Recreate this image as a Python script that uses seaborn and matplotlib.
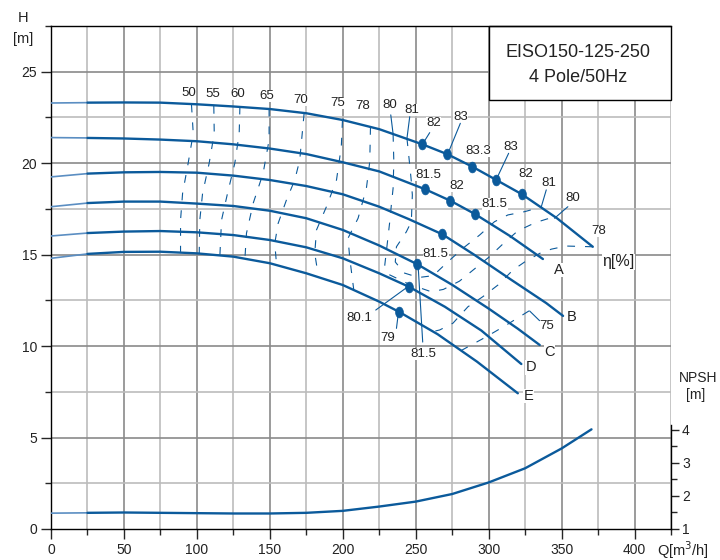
import numpy as np
import seaborn as sns
import matplotlib.pyplot as plt
from matplotlib.markers import MarkerStyle
from matplotlib.patches import Rectangle
from matplotlib.ticker import MultipleLocator

sns.set_style("ticks")
plt.rcParams["font.family"] = ["Liberation Sans", "DejaVu Sans"]

BLUE = "#0b5a9b"
LIGHT = "#5b8ec2"
TXT = "#222222"

# -----------------------------------------------------------
# H-Q curves (Q in m3/h, H in m)
# -----------------------------------------------------------
q_max = [0, 25, 50, 75, 100, 125, 150, 175, 200, 225, 254.6, 271.7, 288.8, 305.3, 322.8, 347, 371.4]
h_max = [23.29, 23.31, 23.32, 23.31, 23.22, 23.1, 22.96, 22.73, 22.36, 21.86, 21.03, 20.49, 19.81, 19.08, 18.3, 16.98, 15.43]

q_a = [0, 25, 50, 75, 100, 125, 150, 175, 200, 225, 256.6, 273.7, 290.6, 315, 337.2]
h_a = [21.4, 21.38, 21.35, 21.29, 21.2, 21.03, 20.8, 20.5, 20.05, 19.55, 18.57, 17.95, 17.22, 16.0, 14.76]

q_b = [0, 25, 50, 75, 100, 125, 150, 175, 200, 225, 245, 268.3, 290, 315, 339.5, 351]
h_b = [19.25, 19.43, 19.5, 19.52, 19.48, 19.32, 19.08, 18.75, 18.3, 17.62, 16.95, 16.11, 15.0, 13.65, 12.35, 11.65]

q_c = [0, 25, 50, 75, 100, 125, 150, 175, 200, 225, 251.2, 275, 300, 320, 335]
h_c = [17.62, 17.82, 17.9, 17.9, 17.79, 17.66, 17.4, 16.99, 16.35, 15.5, 14.47, 13.35, 12.05, 10.95, 10.06]

q_d = [0, 25, 50, 75, 100, 125, 150, 175, 200, 225, 245.2, 270, 295, 322.4]
h_d = [16.02, 16.18, 16.26, 16.29, 16.22, 16.07, 15.8, 15.4, 14.8, 13.98, 13.25, 12.15, 10.85, 9.02]

q_e = [0, 25, 50, 75, 100, 125, 150, 175, 200, 225, 238.4, 265, 292, 320]
h_e = [14.8, 15.04, 15.15, 15.16, 15.07, 14.89, 14.53, 13.98, 13.34, 12.43, 11.88, 10.65, 9.15, 7.42]

# NPSH curve (m)
q_npsh = [0, 25, 50, 75, 100, 125, 150, 175, 200, 225, 250, 275, 300, 325, 350, 370.5]
npsh = [1.48, 1.49, 1.5, 1.49, 1.48, 1.47, 1.47, 1.49, 1.55, 1.68, 1.83, 2.06, 2.41, 2.84, 3.44, 4.02]

# best efficiency markers
bep_q = [254.6, 271.7, 288.8, 305.3, 322.8, 256.6, 273.7, 290.6, 268.3, 251.2, 245.2, 238.4]
bep_h = [21.03, 20.49, 19.81, 19.08, 18.3, 18.57, 17.95, 17.22, 16.11, 14.47, 13.25, 11.88]

# -----------------------------------------------------------
# iso-efficiency lines
# -----------------------------------------------------------
eta50_q = [96.3, 97.5, 94, 90.2, 88.8, 88.8]
eta50_h = [23.2, 21.63, 19.99, 18.35, 16.89, 15.15]
eta55_q = [111.6, 111.9, 108.4, 103.9, 102, 101.6]
eta55_h = [23.13, 21.63, 19.99, 18.35, 16.89, 15.07]
eta60_q = [129.5, 129, 126, 121, 116.9, 115.8]
eta60_h = [23.09, 21.63, 20.0, 18.35, 16.89, 15.0]
eta65_q = [149.5, 149.5, 145.4, 138.6, 134, 132.9]
eta65_h = [22.98, 21.27, 19.45, 17.81, 16.17, 14.75]
eta70_q = [173.5, 170.5, 167.1, 161.4, 155.7, 153.4, 154.6]
eta70_h = [22.72, 20.17, 19.08, 17.99, 16.71, 15.62, 14.45]
eta75_q = [199.8, 199, 195.7, 188.8, 182, 180.8, 183.1]
eta75_h = [22.36, 20.9, 19.08, 17.62, 16.35, 15.07, 13.9]
eta78_q = [219, 218.5, 216.2, 210.5, 203.6, 204.8, 207.5]
eta78_h = [21.98, 20.08, 18.63, 16.99, 15.9, 14.8, 13.1]
eta80_q = [234.5, 235, 234.5, 233.3, 232.2, 230.5, 228.8, 232, 245, 260.7, 269, 280, 290, 300, 310, 320, 332, 340, 346]
eta80_h = [21.6, 20.08, 18.63, 17.71, 16.8, 15.6, 14.43, 13.9, 13.4, 12.97, 13.1, 13.55, 14.2, 14.85, 15.6, 16.3, 16.75, 16.95, 17.05]
eta81_q = [244, 245.9, 247, 247.7, 247, 243.6, 236.8, 236, 242, 252, 262, 271, 282.4, 293.8, 304, 313.2, 324.7, 336]
eta81_h = [21.36, 19.9, 19.0, 18.26, 16.8, 16.25, 15.43, 14.6, 14.0, 13.75, 13.85, 14.53, 15.35, 16.07, 16.8, 17.17, 17.35, 17.6]
eta78r_q = [371.4, 353, 343, 335, 324.7, 316.7, 306.4, 296, 285.8, 275.5, 266.4, 262]
eta78r_h = [15.43, 15.47, 15.3, 15.07, 14.6, 14.16, 13.34, 12.7, 12.15, 11.25, 10.88, 10.8]
eta75r_q = [281, 298.4, 312.1, 328]
eta75r_h = [9.75, 10.51, 11.15, 11.94]

# thin leader lines: (q0, h0, q1, h1)
leaders = [
    (259.6, 21.67, 254.6, 21.03),
    (280.6, 22.18, 271.9, 20.49),
    (313.7, 20.54, 305.3, 19.12),
    (339.5, 18.54, 336.1, 17.62),
    (354.3, 17.62, 345.2, 16.99),
    (232.9, 22.64, 234.5, 21.6),
    (245.9, 22.54, 244.0, 21.36),
    (251.6, 14.47, 254.8, 10.22),
    (222.6, 11.97, 244.7, 13.25),
    (236.8, 10.97, 238.2, 11.86),
    (328.1, 11.92, 334.9, 11.39),
]

eta_labels = [
    ("50", 94.5, 23.84), ("55", 111, 23.78), ("60", 128.1, 23.78), ("65", 147.9, 23.67),
    ("70", 171.2, 23.46), ("75", 196.6, 23.29), ("78", 213.7, 23.13), ("80", 232.2, 23.18),
    ("81", 247.1, 22.9), ("82", 262.3, 22.18), ("83", 280.6, 22.51), ("83.3", 293.2, 20.68),
    ("83", 315.3, 20.87), ("82", 325.1, 19.41), ("81", 341.3, 18.93), ("80", 357.7, 18.08),
    ("78", 375.5, 16.31), ("81.5", 258.4, 19.36), ("82", 277.9, 18.77), ("81.5", 304.1, 17.77),
    ("81.5", 263.7, 15.04), ("80.1", 211.2, 11.55), ("79", 231, 10.43), ("81.5", 255, 9.57),
    ("75", 339.9, 11.1),
]
curve_labels = [("A", 347.9, 14.16), ("B", 356.6, 11.57), ("C", 341.8, 9.69),
                ("D", 329.2, 8.84), ("E", 327.2, 7.27)]

# grid positions
grid_q = np.arange(25, 426, 25)
grid_h = np.arange(2.5, 27.5, 2.5)

RECT = [51 / 720, 31 / 560, 620 / 720, 503 / 560]
fig = plt.figure(figsize=(7.2, 5.6), dpi=100)

# main H-Q axes
ax = fig.add_axes(RECT, zorder=1)
ax.set_xlim(0, 425)
ax.set_ylim(0, 27.5)

# grid, drawn as plain lines behind everything else
for g in grid_q:
    sns.lineplot(x=[g, g], y=[0, 27.5], ax=ax, lw=1.2, sort=False, estimator=None,
                 color="#8a8a8a" if g % 50 == 0 else "#bcbcbc", zorder=0.6)
for g in grid_h:
    sns.lineplot(x=[0, 425], y=[g, g], ax=ax, lw=1.2, sort=False, estimator=None,
                 color="#8a8a8a" if g % 5 == 0 else "#bcbcbc", zorder=0.6)

# efficiency iso lines
dash = (0, (7, 9))
contours = [(eta50_q, eta50_h), (eta55_q, eta55_h), (eta60_q, eta60_h), (eta65_q, eta65_h),
            (eta70_q, eta70_h), (eta75_q, eta75_h), (eta78_q, eta78_h), (eta80_q, eta80_h),
            (eta81_q, eta81_h), (eta78r_q, eta78r_h), (eta75r_q, eta75r_h)]
for cq, ch in contours:
    sns.lineplot(x=cq, y=ch, ax=ax, color=BLUE, lw=0.8, linestyle=dash,
                 sort=False, estimator=None, zorder=2.7)

for q0, h0, q1, h1 in leaders:
    sns.lineplot(x=[q0, q1], y=[h0, h1], ax=ax, color=BLUE, lw=0.8,
                 sort=False, estimator=None, zorder=2.7)

# H-Q curves, light start section below 25 m3/h
for cq, ch in [(q_max, h_max), (q_a, h_a), (q_b, h_b), (q_c, h_c), (q_d, h_d), (q_e, h_e)]:
    sns.lineplot(x=cq[:2], y=ch[:2], ax=ax, color=LIGHT, lw=1.2,
                 sort=False, estimator=None, zorder=3)
    sns.lineplot(x=cq[1:], y=ch[1:], ax=ax, color=BLUE, lw=1.7,
                 sort=False, estimator=None, zorder=3)

t = np.linspace(0, 2 * np.pi, 40)
oval = MarkerStyle(np.column_stack([0.72 * np.cos(t), np.sin(t)]))
sns.scatterplot(x=bep_q, y=bep_h, ax=ax, marker=oval, s=60, color=BLUE,
                edgecolor=BLUE, linewidth=0.5, zorder=4)

# labels; bbox pad is given in units of the font size
for txt, x, y in eta_labels:
    ax.text(x, y, txt, fontsize=9.5, color=TXT, ha="center", va="center",
            bbox=dict(fc="white", ec="none", pad=0.12), zorder=2.5)
for txt, x, y in curve_labels:
    ax.text(x, y, txt, fontsize=10.5, color=TXT, ha="center", va="center",
            bbox=dict(fc="white", ec="none", pad=0.35), zorder=2.5)
ax.text(389.2, 14.61, "η[%]", fontsize=11.5, color=TXT, ha="center", va="center",
        bbox=dict(fc="white", ec="none", pad=0.35), zorder=2.5)

# title box
ax.add_patch(Rectangle((0.7065, 0.853), 0.2935, 0.147, transform=ax.transAxes,
                       fc="white", ec="black", lw=1.0, zorder=2.5, clip_on=False))
ax.text(0.8504, 0.947, "EISO150-125-250", transform=ax.transAxes, fontsize=13,
        color=TXT, ha="center", va="center", zorder=2.6)
ax.text(0.8504, 0.898, "4 Pole/50Hz", transform=ax.transAxes, fontsize=13,
        color=TXT, ha="center", va="center", zorder=2.6)

# axis titles
ax.text(-19.4, 27.92, "H", fontsize=10.5, color=TXT, ha="center", va="center")
ax.text(-19.0, 26.77, "[m]", fontsize=10.5, color=TXT, ha="center", va="center")
ax.text(433, -1.15, "Q[m$^3$/h]", fontsize=10.5, color=TXT, ha="center", va="center")
ax.text(443.4, 8.24, "NPSH", fontsize=10, color=TXT, ha="center", va="center")
ax.text(441.8, 7.33, "[m]", fontsize=10, color=TXT, ha="center", va="center")

# main axis ticks and spines
ax.set_xticks(range(0, 401, 50))
ax.xaxis.set_minor_locator(MultipleLocator(25))
ax.yaxis.set_major_locator(MultipleLocator(5))
ax.yaxis.set_minor_locator(MultipleLocator(2.5))
ax.tick_params(which="major", length=7, width=1, labelsize=10, labelcolor=TXT, pad=3)
ax.tick_params(which="minor", length=4, width=1)
for s in ["left", "bottom", "top"]:
    ax.spines[s].set_color("black")
    ax.spines[s].set_linewidth(1.0)
ax.spines["right"].set_visible(False)
ax.set_xlabel("")
ax.set_ylabel("")

# NPSH axes on the right, overlaid
axn = fig.add_axes(RECT, zorder=2)
axn.patch.set_visible(False)
axn.set_xlim(0, 425)
axn.set_ylim(1, 1 + 27.5 * 18.29 / 33)
axn.xaxis.set_visible(False)
axn.yaxis.tick_right()
axn.set_yticks([1, 2, 3, 4])
axn.set_yticks([1.5, 2.5, 3.5], minor=True)
axn.tick_params(which="major", length=6, width=1, labelsize=10, labelcolor=TXT, pad=2)
axn.tick_params(which="minor", length=4, width=1)
for s in ["left", "bottom", "top"]:
    axn.spines[s].set_visible(False)
axn.spines["right"].set_bounds(1, 4.15)
axn.spines["right"].set_color("black")
axn.spines["right"].set_linewidth(1.0)
sns.lineplot(x=q_npsh[:2], y=npsh[:2], ax=axn, color=LIGHT, lw=1.2, sort=False, estimator=None)
sns.lineplot(x=q_npsh[1:], y=npsh[1:], ax=axn, color=BLUE, lw=1.7, sort=False, estimator=None)
axn.set_xlabel("")
axn.set_ylabel("")

fig.savefig("out.png", dpi=100)
